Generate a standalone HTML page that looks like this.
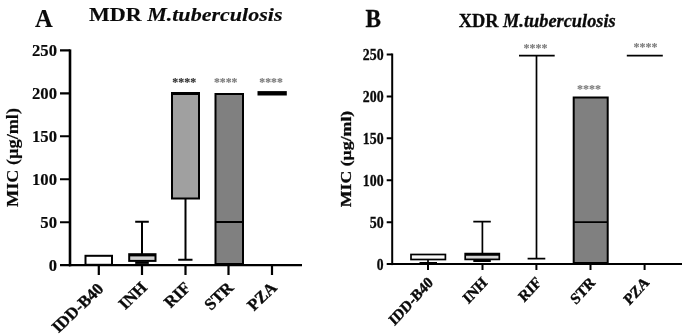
<!DOCTYPE html>
<html><head><meta charset="utf-8"><title>MIC boxplots</title>
<style>
html,body{margin:0;padding:0;background:#fff;}
svg{display:block;}
text{font-family:"Liberation Serif","DejaVu Serif",serif;font-weight:bold;fill:#0a0a0a;stroke:#0a0a0a;stroke-width:0.15px;}
.it{font-style:italic;}
.ax{stroke:#000;stroke-width:2.4;fill:none;stroke-linecap:butt;}
.bx{stroke:#000;stroke-width:2;}
.wh{stroke:#000;stroke-width:2;fill:none;}
#pb .ax{stroke-width:2;}
#pb .bx,#pb .wh{stroke-width:1.7;}
.st{fill:#7c7c7c;stroke:#7c7c7c;}
#pb text{stroke-width:0.3px;}
#pb text.st{stroke-width:0.1px;}
#pa .xl text{stroke-width:0.35px;}
#pb .xl text{stroke-width:0.4px;}
</style></head>
<body>
<svg width="685" height="336" viewBox="0 0 685 336">
<rect x="0" y="0" width="685" height="336" fill="#fff"/>

<!-- ================= Panel A ================= -->
<g id="pa">
<text x="35" y="27" font-size="24.5">A</text>
<text x="89" y="21" font-size="19.8" textLength="193.5" lengthAdjust="spacingAndGlyphs">MDR <tspan class="it">M.tuberculosis</tspan></text>

<!-- y label -->
<text transform="translate(17.9,157.5) rotate(-90)" text-anchor="middle" font-size="16" textLength="99" lengthAdjust="spacingAndGlyphs">MIC (µg/ml)</text>

<!-- axes -->
<path class="ax" style="stroke-width:2.6" d="M70 49.4V266.3"/>
<path class="ax" style="stroke-width:2.2" d="M69 265.2H302"/>
<path class="ax" style="stroke-width:2.1" d="M60 50.40H70M60 93.35H70M60 136.30H70M60 179.25H70M60 222.20H70M60 265.15H70"/>
<path class="ax" style="stroke-width:2.2" d="M98.8 265.2V274.9M142 265.2V274.9M185.5 265.2V274.9M228.5 265.2V274.9M272 265.2V274.9"/>

<!-- y tick labels -->
<g font-size="16.4" text-anchor="end">
<text x="57" y="56.20" textLength="25.0" lengthAdjust="spacingAndGlyphs">250</text>
<text x="57" y="99.15" textLength="25.0" lengthAdjust="spacingAndGlyphs">200</text>
<text x="57" y="142.10" textLength="25.0" lengthAdjust="spacingAndGlyphs">150</text>
<text x="57" y="185.05" textLength="25.0" lengthAdjust="spacingAndGlyphs">100</text>
<text x="57" y="228.00" textLength="16.7" lengthAdjust="spacingAndGlyphs">50</text>
<text x="57" y="270.95" textLength="8.3" lengthAdjust="spacingAndGlyphs">0</text>
</g>

<!-- boxes -->
<rect class="bx" x="85.5" y="255.8" width="26.5" height="9" fill="#fff"/>
<path class="wh" d="M142 221.8V254M135.2 221.8H148.8"/>
<rect class="bx" x="129.2" y="254.2" width="26.3" height="6.7" fill="#cfcfcf"/>
<path class="wh" d="M129.2 255.4H155.5"/>
<rect x="135.2" y="261.5" width="13.6" height="2.4" fill="#000"/>
<path class="wh" d="M185.5 198V259.8M178.2 259.8H192.5"/>
<rect class="bx" x="172" y="94" width="27" height="104.5" fill="#a0a0a0"/>
<path d="M171 93.5H200" stroke="#000" stroke-width="3"/>
<rect class="bx" x="215.5" y="94" width="27.5" height="170" fill="#808080"/>
<path class="wh" d="M215.5 222H243"/>
<path d="M257.5 93.3H286.8" stroke="#000" stroke-width="4.4"/>

<!-- stars -->
<g font-size="13.5" text-anchor="middle">
<text x="184.2" y="85.8" style="fill:#333;stroke:#333" textLength="24" lengthAdjust="spacingAndGlyphs">****</text>
<text x="225.7" y="85.8" class="st" textLength="23.5" lengthAdjust="spacingAndGlyphs">****</text>
<text x="271" y="85.8" class="st" textLength="23.5" lengthAdjust="spacingAndGlyphs">****</text>
</g>

<!-- x labels -->
<g class="xl" font-size="16.2" text-anchor="end">
<text transform="translate(104.5,289.7) scale(1.05,1) rotate(-45)">IDD-B40</text>
<text transform="translate(148,288.7) scale(1.05,1) rotate(-45)">INH</text>
<text transform="translate(191.5,288.7) scale(1.05,1) rotate(-45)">RIF</text>
<text transform="translate(234.5,288.7) scale(1.05,1) rotate(-45)">STR</text>
<text transform="translate(278,288.7) scale(1.05,1) rotate(-45)">PZA</text>
</g>
</g>

<!-- ================= Panel B ================= -->
<g id="pb">
<text x="365.5" y="26.5" font-size="24.5" textLength="15.5" lengthAdjust="spacingAndGlyphs">B</text>
<text x="458.7" y="26.5" font-size="19.8" textLength="157" lengthAdjust="spacingAndGlyphs">XDR <tspan class="it">M.tuberculosis</tspan></text>

<text transform="translate(350.8,159) scale(0.91,1) rotate(-90)" text-anchor="middle" font-size="16" textLength="96.5" lengthAdjust="spacingAndGlyphs">MIC (µg/ml)</text>

<path class="ax" d="M392.2 53.5V265.1"/>
<path class="ax" d="M391.2 264.1H682"/>
<path class="ax" d="M386.7 54.50H392.2M386.7 96.42H392.2M386.7 138.34H392.2M386.7 180.26H392.2M386.7 222.18H392.2M386.7 264.10H392.2"/>
<path class="ax" d="M428 264.1V270M482.5 264.1V270M536.4 264.1V270M590.5 264.1V270M644.6 264.1V270"/>

<g font-size="16" text-anchor="end">
<text x="383.6" y="59.90" textLength="20.8" lengthAdjust="spacingAndGlyphs">250</text>
<text x="383.6" y="101.82" textLength="20.8" lengthAdjust="spacingAndGlyphs">200</text>
<text x="383.6" y="143.74" textLength="20.8" lengthAdjust="spacingAndGlyphs">150</text>
<text x="383.6" y="185.66" textLength="20.8" lengthAdjust="spacingAndGlyphs">100</text>
<text x="383.6" y="227.58" textLength="13.9" lengthAdjust="spacingAndGlyphs">50</text>
<text x="383.6" y="269.50" textLength="6.8" lengthAdjust="spacingAndGlyphs">0</text>
</g>

<!-- boxes -->
<path class="wh" d="M428 260V262.8M419.5 262.8H437"/>
<rect class="bx" x="411" y="254.5" width="34.4" height="5" fill="#fafafa"/>
<path class="wh" d="M482.4 221.7V253M473.3 221.7H490.8"/>
<rect class="bx" x="465.2" y="253.6" width="34.1" height="5.8" fill="#d4d4d4"/>
<path class="wh" d="M465.2 254.8H499.3"/>
<rect x="473.3" y="259.6" width="17.5" height="2.4" fill="#000"/>
<path class="wh" d="M536.5 55.7V258.7M519 55.7H554.7M527.6 258.7H545.3"/>
<rect class="bx" style="stroke-width:2" x="573.7" y="97.5" width="34" height="165.5" fill="#808080"/>
<path class="wh" d="M573.6 222.2H607.8"/>
<path class="wh" d="M626.8 55.7H662.8"/>

<g font-size="12" text-anchor="middle">
<text x="535.4" y="51.5" class="st">****</text>
<text x="589" y="93" class="st">****</text>
<text x="645.6" y="50.8" class="st">****</text>
</g>

<g class="xl" font-size="15.8" text-anchor="end">
<text transform="translate(434,283.5) scale(0.92,1) rotate(-45)">IDD-B40</text>
<text transform="translate(488,283.5) scale(0.92,1) rotate(-45)">INH</text>
<text transform="translate(542,283.5) scale(0.92,1) rotate(-45)">RIF</text>
<text transform="translate(596,283.5) scale(0.92,1) rotate(-45)">STR</text>
<text transform="translate(650,283.5) scale(0.92,1) rotate(-45)">PZA</text>
</g>
</g>
</svg>
</body></html>
